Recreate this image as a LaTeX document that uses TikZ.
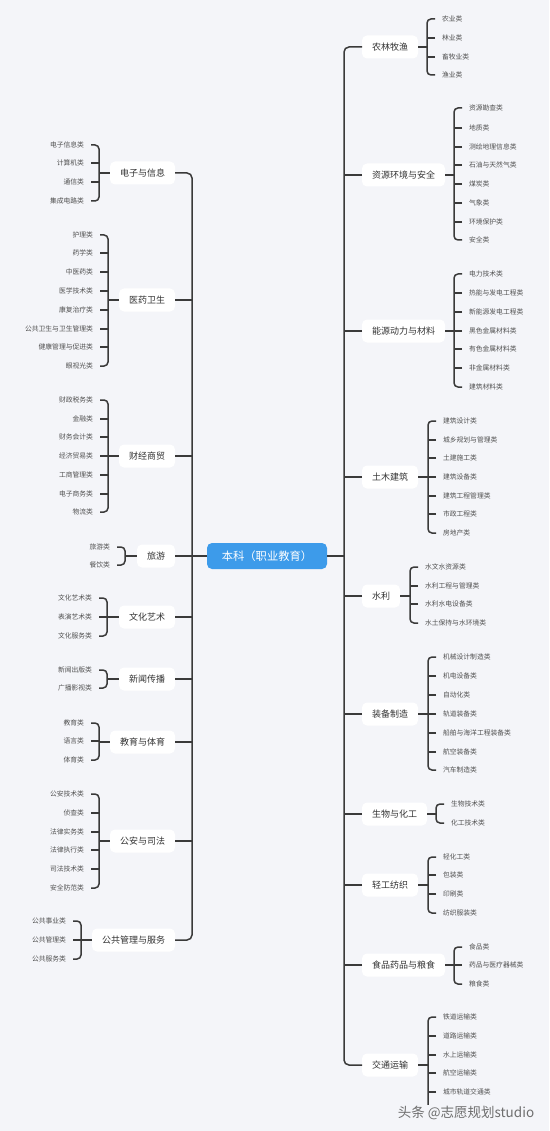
\documentclass[tikz,border=0pt]{standalone}
\usepackage{fontspec}
\setmainfont{Noto Sans CJK SC}
\definecolor{bgc}{HTML}{F4F5F9}
\definecolor{linec}{HTML}{3A3A3A}
\definecolor{rootc}{HTML}{3D9BEA}
\definecolor{catc}{HTML}{333333}
\definecolor{leafc}{HTML}{505050}
\definecolor{wmc}{HTML}{6E6E6E}
\tikzset{
  conn/.style={draw=linec, line width=1.5pt, rounded corners=4pt},
  trunk/.style={draw=linec, line width=1.5pt, rounded corners=5pt},
  cat/.style={fill=white, rounded corners=5pt, minimum height=23pt, inner xsep=10pt, inner ysep=0pt, outer sep=0pt, text=catc, font=\fontsize{9}{10}\selectfont},
  leaf/.style={inner sep=0pt, outer xsep=7pt, outer ysep=0pt, text=leafc, font=\fontsize{6.8}{7}\selectfont},
  leafL/.style={leaf, anchor=east},
  leafR/.style={leaf, anchor=west},
  rootbox/.style={fill=rootc, rounded corners=5pt, minimum width=120pt, minimum height=26pt, inner sep=0pt, outer sep=0pt, text=white, font=\fontsize{11.3}{12}\selectfont},
  wmark/.style={text=wmc, fill=bgc, inner sep=1pt, font=\fontsize{13.5}{14}\selectfont}
}
% #1 name, #2 text, #3 y, #4 bracket x, #5 count, #6 list y/text
\newcommand\LGroup[6]{%
  \node[cat, anchor=east] (#1) at (175,#3) {#2};
  \coordinate (#1b) at (#4,#3);
  \foreach \yy/\lbl [count=\i] in {#6} {
    \node[leafL] (#1-\i) at ({#4-8},\yy) {\lbl};
    \ifnum\i>1 \ifnum\i<#5 \draw[conn] (#1-\i.east) -- (#1-\i.east -| #1b); \fi\fi
  }
  \draw[conn] (#1-1.east) -| (#1b) |- (#1-#5.east);
  \draw[conn] (#1b) -- (#1.west);
}
\newcommand\RGroup[6]{%
  \node[cat, anchor=west] (#1) at (362,#3) {#2};
  \coordinate (#1b) at (#4,#3);
  \foreach \yy/\lbl [count=\i] in {#6} {
    \node[leafR] (#1-\i) at ({#4+8},\yy) {\lbl};
    \ifnum\i>1 \ifnum\i<#5 \draw[conn] (#1-\i.west) -- (#1-\i.west -| #1b); \fi\fi
  }
  \draw[conn] (#1-1.west) -| (#1b) |- (#1-#5.west);
  \draw[conn] (#1.east) -- (#1b);
}
\begin{document}
\begin{tikzpicture}[x=1pt, y=-1pt]
\fill[bgc] (0,0) rectangle (549,1131);
\useasboundingbox (0,0) rectangle (549,1131);

\node[rootbox] (root) at (267,556) {本科（职业教育）};
\coordinate (TL) at (192,556);
\coordinate (TR) at (344,556);

% left side
\LGroup{L1}{电子与信息}{173}{99}{4}{145/电子信息类,163/计算机类,182/通信类,201/集成电路类}
\LGroup{L2}{医药卫生}{300}{108}{8}{235/护理类,253/药学类,272/中医药类,291/医学技术类,310/康复治疗类,329/公共卫生与卫生管理类,347/健康管理与促进类,366/眼视光类}
\LGroup{L3}{财经商贸}{456}{108}{7}{400/财政税务类,419/金融类,437/财务会计类,456/经济贸易类,475/工商管理类,494/电子商务类,512/物流类}
\LGroup{L4}{旅游}{556}{125}{2}{547/旅游类,565/餐饮类}
\LGroup{L5}{文化艺术}{617}{107}{3}{598/文化艺术类,617/表演艺术类,636/文化服务类}
\LGroup{L6}{新闻传播}{679}{107}{2}{670/新闻出版类,688/广播影视类}
\LGroup{L7}{教育与体育}{742}{99}{3}{723/教育类,741/语言类,760/体育类}
\LGroup{L8}{公安与司法}{841}{99}{6}{794/公安技术类,813/侦查类,832/法律实务类,850/法律执行类,869/司法技术类,888/安全防范类}
\LGroup{L9}{公共管理与服务}{940}{81}{3}{921/公共事业类,940/公共管理类,959/公共服务类}

% right side
\RGroup{R1}{农林牧渔}{47}{427}{4}{19/农业类,38/林业类,57/畜牧业类,75/渔业类}
\RGroup{R2}{资源环境与安全}{175}{454}{8}{108/资源勘查类,128/地质类,147/测绘地理信息类,165/石油与天然气类,184/煤炭类,203/气象类,222/环境保护类,240/安全类}
\RGroup{R3}{能源动力与材料}{331}{454}{7}{274/电力技术类,293/热能与发电工程类,312/新能源发电工程类,331/黑色金属材料类,349/有色金属材料类,368/非金属材料类,387/建筑材料类}
\RGroup{R4}{土木建筑}{477}{428}{7}{421/建筑设计类,440/城乡规划与管理类,458/土建施工类,477/建筑设备类,496/建筑工程管理类,514/市政工程类,533/房地产类}
\RGroup{R5}{水利}{596}{410}{4}{567/水文水资源类,586/水利工程与管理类,604/水利水电设备类,623/水土保持与水环境类}
\RGroup{R6}{装备制造}{714}{428}{7}{657/机械设计制造类,676/机电设备类,695/自动化类,714/轨道装备类,733/船舶与海洋工程装备类,752/航空装备类,770/汽车制造类}
\RGroup{R7}{生物与化工}{814}{436}{2}{804/生物技术类,823/化工技术类}
\RGroup{R8}{轻工纺织}{885}{428}{4}{857/轻化工类,875/包装类,894/印刷类,913/纺织服装类}
\RGroup{R9}{食品药品与粮食}{965}{454}{3}{947/食品类,965/药品与医疗器械类,984/粮食类}
\RGroup{R10}{交通运输}{1065}{428}{6}{1017/铁道运输类,1036/道路运输类,1055/水上运输类,1073/航空运输类,1092/城市轨道交通类,1111/{}}

% trunks
\draw[trunk] (L1.east) -| (TL) |- (L9.east);
\foreach \k in {2,...,8} \draw[conn] (L\k.east) -- (L\k.east -| TL);
\draw[conn] (root.west) -- (TL);
\draw[trunk] (R1.west) -| (TR) |- (R10.west);
\foreach \k in {2,...,9} \draw[conn] (R\k.west) -- (R\k.west -| TR);
\draw[conn] (root.east) -- (TR);

\node[wmark] (wm) at (466,1113) {头条 @志愿规划studio};
\end{tikzpicture}
\end{document}
